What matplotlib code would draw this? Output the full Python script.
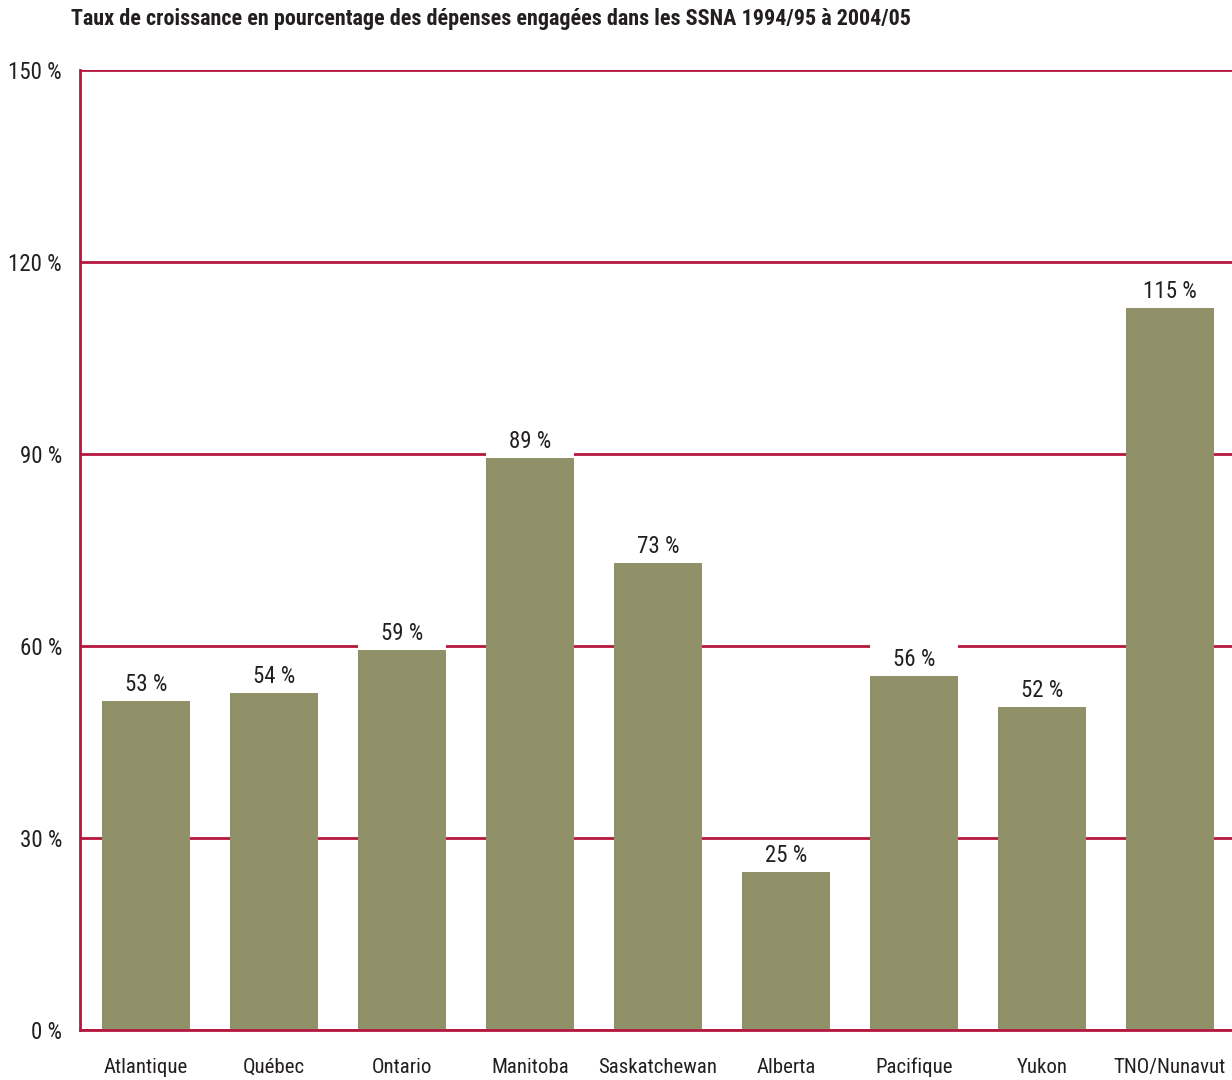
import matplotlib.pyplot as plt
from matplotlib import font_manager

regions = ['Atlantique', 'Québec', 'Ontario', 'Manitoba', 'Saskatchewan',
           'Alberta', 'Pacifique', 'Yukon', 'TNO/Nunavut']
growth = [51.4, 52.7, 59.4, 89.4, 73.0, 24.7, 55.3, 50.5, 112.8]
value_labels = ['53 %', '54 %', '59 %', '89 %', '73 %', '25 %', '56 %', '52 %', '115 %']
y_ticks = [0, 30, 60, 90, 120, 150]
title = 'Taux de croissance en pourcentage des dépenses engagées dans les SSNA 1994/95 à 2004/05'

# pick a narrow font if there is one
fonts = font_manager.fontManager.ttflist
names = {f.name for f in fonts}
scale = 1.0
family = 'DejaVu Sans'
for cand in ['Roboto Condensed', 'Liberation Sans Narrow', 'Open Sans Condensed']:
    if cand in names:
        family = cand
        break
else:
    scale = 0.85
plt.rcParams['font.family'] = [family, 'DejaVu Sans']

red = '#b5173f'
olive = '#919169'
ink = '#231f20'
num_size = 16.5 * scale
cat_size = 15 * scale

fig = plt.figure(figsize=(12.32, 10.8), dpi=100)
ax = fig.add_axes([80 / 1232, 1 - 1030 / 1080, 1 - 80 / 1232, 960 / 1080])

x = list(range(len(regions)))
w = 88 / 128
ax.bar(x, growth, width=w, color=olive, zorder=3)
# white boxes behind labels, hiding the grid lines
ax.bar(x, [4.9] * len(x), bottom=growth, width=w, color='white', zorder=2.5)
for xi, v, lab in zip(x, growth, value_labels):
    ax.text(xi, v + 0.8, lab, ha='center', va='bottom', fontsize=num_size, color=ink, zorder=4)

ax.set_xlim(-66 / 128, len(regions) - 1 + 62 / 128)
ax.set_ylim(0, 150)
ax.set_yticks(y_ticks)
ax.set_yticklabels([f'{t} %' for t in y_ticks])
ax.set_xticks(x)
ax.set_xticklabels(regions)
ax.tick_params(axis='both', length=0, colors=ink)
ax.tick_params(axis='y', pad=13, labelsize=num_size)
ax.tick_params(axis='x', pad=20, labelsize=cat_size)
ax.yaxis.grid(True, color=red, linewidth=2)
ax.set_axisbelow(True)
for s in ['top', 'right']:
    ax.spines[s].set_visible(False)
for s in ['left', 'bottom']:
    ax.spines[s].set_color(red)
    ax.spines[s].set_linewidth(2)
    ax.spines[s].set_zorder(5)

fig.text(71 / 1232, 1 - 19 / 1080, title, fontsize=15.9 * scale, fontweight='bold',
         ha='left', va='center', color=ink)

fig.savefig('out.png', dpi=100)
